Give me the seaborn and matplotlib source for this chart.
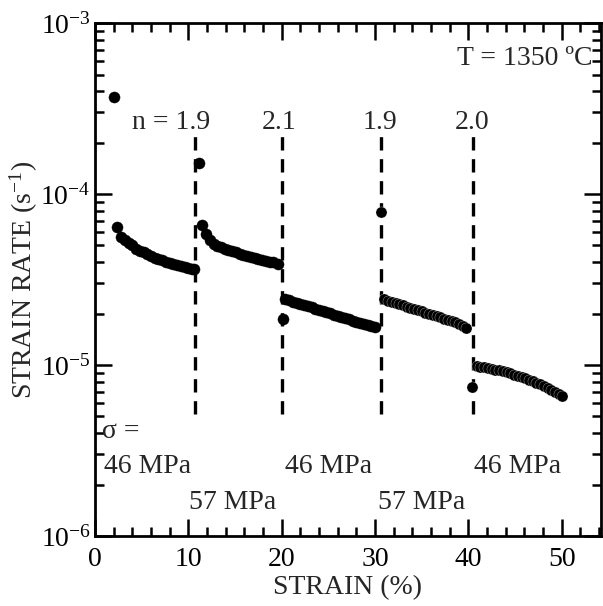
import matplotlib
matplotlib.use("Agg")
import matplotlib.pyplot as plt
import seaborn as sns
import pandas as pd
import numpy as np
from matplotlib.ticker import LogLocator, MultipleLocator

# ---------------- data ----------------
seg1_strain = [2.0, 2.4, 2.8, 3.2, 3.6, 4.0, 4.4, 4.8, 5.2, 5.6, 6.0, 6.4, 6.8, 7.2,
               7.6, 8.0, 8.4, 8.8, 9.2, 9.6, 10.0, 10.4, 10.6]
seg1_rate = [3.7e-4, 6.4e-5, 5.6e-5, 5.4e-5, 5.2e-5, 5.0e-5, 4.8e-5, 4.65e-5, 4.55e-5,
             4.45e-5, 4.35e-5, 4.25e-5, 4.17e-5, 4.1e-5, 4.03e-5, 3.97e-5, 3.91e-5,
             3.85e-5, 3.8e-5, 3.75e-5, 3.7e-5, 3.65e-5, 3.62e-5]

seg2_strain = [11.1, 11.5, 11.9, 12.3, 12.7, 13.1, 13.5, 13.9, 14.3, 14.7, 15.1, 15.5,
               15.9, 16.3, 16.7, 17.1, 17.5, 17.9, 18.3, 18.7, 19.1, 19.6]
seg2_rate = [1.52e-4, 6.6e-5, 5.8e-5, 5.35e-5, 5.1e-5, 4.97e-5, 4.88e-5, 4.78e-5, 4.7e-5,
             4.62e-5, 4.55e-5, 4.48e-5, 4.42e-5, 4.36e-5, 4.3e-5, 4.24e-5, 4.18e-5,
             4.13e-5, 4.08e-5, 4.03e-5, 3.98e-5, 3.88e-5]

seg3_strain = [20.1, 20.4, 20.8, 21.2, 21.6, 22.0, 22.4, 22.8, 23.2, 23.6, 24.0, 24.4,
               24.8, 25.2, 25.6, 26.0, 26.4, 26.8, 27.2, 27.6, 28.0, 28.4, 28.8, 29.2,
               29.6, 30.0]
seg3_rate = [1.87e-5, 2.43e-5, 2.39e-5, 2.35e-5, 2.31e-5, 2.28e-5, 2.24e-5, 2.21e-5,
             2.17e-5, 2.14e-5, 2.10e-5, 2.07e-5, 2.04e-5, 2.01e-5, 1.97e-5, 1.94e-5,
             1.91e-5, 1.88e-5, 1.85e-5, 1.82e-5, 1.79e-5, 1.77e-5, 1.74e-5, 1.71e-5,
             1.68e-5, 1.66e-5]

seg4_strain = [30.6, 31.0, 31.4, 31.8, 32.2, 32.6, 33.0, 33.4, 33.8, 34.2, 34.6, 35.0,
               35.4, 35.8, 36.2, 36.6, 37.0, 37.4, 37.8, 38.2, 38.6, 39.0, 39.4, 39.8]
seg4_rate = [7.9e-5, 2.42e-5, 2.38e-5, 2.34e-5, 2.30e-5, 2.27e-5, 2.23e-5, 2.19e-5,
             2.16e-5, 2.12e-5, 2.09e-5, 2.06e-5, 2.02e-5, 1.99e-5, 1.96e-5, 1.93e-5,
             1.90e-5, 1.87e-5, 1.84e-5, 1.81e-5, 1.78e-5, 1.74e-5, 1.69e-5, 1.65e-5]

seg5_strain = [40.4, 40.9, 41.3, 41.7, 42.1, 42.5, 42.9, 43.3, 43.7, 44.1, 44.5, 44.9,
               45.3, 45.7, 46.1, 46.5, 46.9, 47.3, 47.7, 48.1, 48.5, 48.9, 49.3, 49.7, 50.0]
seg5_rate = [7.4e-6, 9.9e-6, 9.8e-6, 9.7e-6, 9.6e-6, 9.5e-6, 9.4e-6, 9.3e-6, 9.2e-6,
             9.1e-6, 9.0e-6, 8.8e-6, 8.65e-6, 8.5e-6, 8.35e-6, 8.2e-6, 8.05e-6, 7.9e-6,
             7.75e-6, 7.55e-6, 7.35e-6, 7.15e-6, 6.95e-6, 6.75e-6, 6.6e-6]

change_strain = [10.7, 20.07, 30.6, 40.5]
n_values = ["n = 1.9", "2.1", "1.9", "2.0"]
n_label_x = [8.2, 19.7, 30.5, 40.4]
stress_labels = ["46 MPa", "57 MPa", "46 MPa", "57 MPa", "46 MPa"]
stress_label_x = [5.6, 14.7, 25.0, 35.0, 45.3]
stress_label_y = [2.55e-6, 1.56e-6, 2.55e-6, 1.56e-6, 2.55e-6]

# ---------------- figure ----------------
sns.set_theme(style="white")
plt.rcParams["font.family"] = ["Liberation Serif", "DejaVu Serif"]
plt.rcParams["mathtext.fontset"] = "custom"
plt.rcParams["mathtext.rm"] = "Liberation Serif"
plt.rcParams["mathtext.it"] = "Liberation Serif:italic"
plt.rcParams["mathtext.bf"] = "Liberation Serif:bold"

fig = plt.figure(figsize=(6.03, 6.06), dpi=100)
ax = fig.add_axes([0.1575, 0.1155, 0.839, 0.8465])

df_a = pd.DataFrame({
    "strain": seg1_strain + seg2_strain + seg3_strain,
    "rate": seg1_rate + seg2_rate + seg3_rate,
})
df_b = pd.DataFrame({
    "strain": seg4_strain + seg5_strain,
    "rate": seg4_rate + seg5_rate,
})

sns.scatterplot(data=df_a, x="strain", y="rate", ax=ax, color="black", s=64,
                edgecolor="black", linewidth=0.3, zorder=3, legend=False)
sns.scatterplot(data=df_b, x="strain", y="rate", ax=ax, color="black", s=64,
                edgecolor="white", linewidth=0.2, zorder=3, legend=False)

ax.set_yscale("log")
ax.set_ylim(1e-6, 1e-3)
ax.set_xlim(0, 54.2)

ax.vlines(change_strain, 5.2e-6, 2.3e-4, colors="black", linewidth=2.4,
          linestyles=(0, (4, 2.6)), zorder=2)

fs = 20
for lab, xx in zip(n_values, n_label_x):
    ax.text(xx, 2.63e-4, lab, ha="center", va="center", fontsize=fs)
ax.text(53.3, 6.2e-4, "T = 1350 ºC", ha="right", va="center", fontsize=fs)
ax.text(0.7, 4.1e-6, "σ =", ha="left", va="center", fontsize=fs)
for lab, xx, yy in zip(stress_labels, stress_label_x, stress_label_y):
    ax.text(xx, yy, lab, ha="center", va="center", fontsize=fs)

ax.set_xlabel("STRAIN (%)", fontsize=fs, labelpad=2)
ax.set_ylabel("STRAIN RATE (s$^{-1}$)", fontsize=fs)
ax.yaxis.set_label_coords(-0.108, 0.5)

ax.xaxis.set_major_locator(MultipleLocator(10))
ax.xaxis.set_minor_locator(MultipleLocator(2))
ax.yaxis.set_major_locator(LogLocator(base=10, numticks=10))
ax.yaxis.set_minor_locator(LogLocator(base=10, subs=np.arange(2, 10), numticks=20))

ax.tick_params(which="both", direction="in", top=True, right=True, bottom=True, left=True,
               labelsize=fs, colors="black")
ax.tick_params(which="major", length=12, width=1.8)
ax.tick_params(axis="x", which="major", pad=8)
ax.tick_params(axis="y", which="major", pad=3)
ax.tick_params(which="minor", length=6.5, width=1.8)
for sp in ax.spines.values():
    sp.set_color("black")
    sp.set_linewidth(2.0)

fig.savefig("out.png", dpi=100)
